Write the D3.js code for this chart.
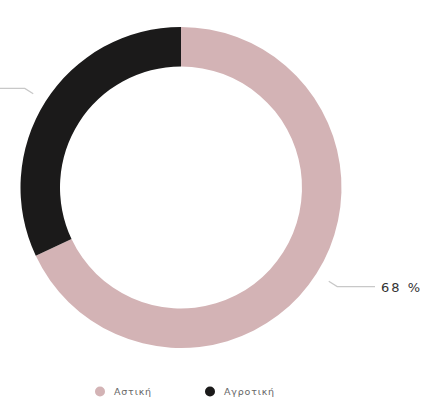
<!DOCTYPE html>
<html><head><meta charset="utf-8">
<script src="https://cdn.jsdelivr.net/npm/d3@7"></script>
<style>html,body{margin:0;padding:0;background:#fff;}svg{display:block;}</style>
</head><body>
<svg id="c" width="445" height="405"></svg>
<script>
const categories = ["Αστική", "Αγροτική"];
const values = [68, 32];
const labels = ["68 %", ""];
const colors = ["#d3b3b5", "#1b1a1a"];

const svg = d3.select("#c");
const cx = 181, cy = 187.5, rOuter = 160.5, rInner = 121;
const g = svg.append("g").attr("transform", `translate(${cx},${cy})`);

const pie = d3.pie().sort(null).value(d => d);
const arcs = pie(values);
const arc = d3.arc().innerRadius(rInner).outerRadius(rOuter);

g.selectAll("path.slice").data(arcs).enter().append("path")
  .attr("class", "slice")
  .attr("d", arc)
  .attr("fill", (d, i) => colors[i]);

const arcStart = d3.arc().innerRadius(175).outerRadius(175);
const arcElbow = d3.arc().innerRadius(185).outerRadius(185);

arcs.forEach((d, i) => {
  const p1 = arcStart.centroid(d);
  const p2 = arcElbow.centroid(d);
  const right = (d.startAngle + d.endAngle) / 2 < Math.PI;
  const p3 = [right ? 375 - cx : -cx - 5, p2[1]];
  g.append("polyline")
    .attr("points", [p1, p2, p3].map(p => p.join(",")).join(" "))
    .attr("fill", "none")
    .attr("stroke", "#c8c8c8")
    .attr("stroke-width", 1.2);
  if (labels[i]) {
    g.append("text")
      .attr("x", right ? p3[0] + 6 : p3[0] - 6)
      .attr("y", p3[1] + 5)
      .attr("text-anchor", right ? "start" : "end")
      .attr("font-family", "DejaVu Sans")
      .attr("font-size", 13)
      .attr("letter-spacing", 2)
      .attr("fill", "#333")
      .text(labels[i]);
  }
});

const legendX = [100, 210];
const lg = svg.append("g");
categories.forEach((c, i) => {
  lg.append("circle").attr("cx", legendX[i]).attr("cy", 391.5).attr("r", 5).attr("fill", colors[i]);
  lg.append("text").attr("x", legendX[i] + 14).attr("y", 395)
    .attr("font-family", "DejaVu Sans").attr("font-size", 9.5)
    .attr("letter-spacing", 0.8)
    .attr("fill", "#666").text(c);
});
</script>
</body></html>
